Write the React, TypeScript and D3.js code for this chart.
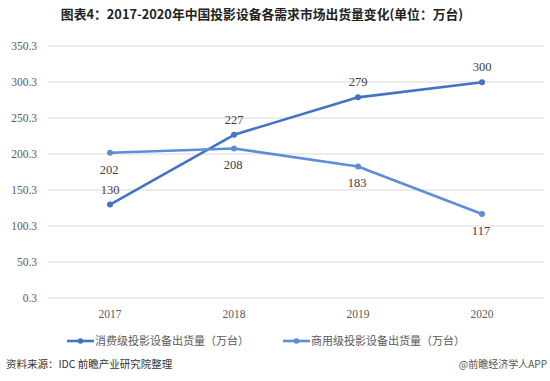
import React from "react";
import * as d3 from "d3";

const years = ["2017", "2018", "2019", "2020"];
const consumer = [130, 227, 279, 300];
const commercial = [202, 208, 183, 117];
const yTicks = [0.3, 50.3, 100.3, 150.3, 200.3, 250.3, 300.3, 350.3];
const seriesNames = ["消费级投影设备出货量（万台）", "商用级投影设备出货量（万台）"];
const colors = ["#4472C4", "#5B8ED6"];

export default function App() {
  const W = 550, H = 381;
  const x0 = 48, x1 = 544, yTop = 46, yBot = 298;
  const x = d3.scaleBand<string>().domain(years).range([x0, x1]);
  const y = d3.scaleLinear().domain([0.3, 350.3]).range([yBot, yTop]);
  const cx = (i: number) => (x(years[i]) as number) + x.bandwidth() / 2;
  const line = d3.line<number>().x((_, i) => cx(i)).y((d) => y(d));
  const serif = "'Liberation Serif', 'DejaVu Serif', serif";
  const sans = "'Noto Sans CJK SC', 'Noto Sans', sans-serif";
  const series = [consumer, commercial];
  return (
    <svg width={W} height={H} style={{ position: "absolute", left: 0, top: 0, background: "#fff" }}>
      <rect width={W} height={H} fill="#fff" />
      <text x={262} y={19} textAnchor="middle" fontFamily={sans} fontWeight="bold" fontSize={12.8} fill="#222">
        图表4：2017-2020年中国投影设备各需求市场出货量变化(单位：万台)
      </text>
      {yTicks.map((t) => (
        <g key={t}>
          <line x1={x0} x2={x1} y1={y(t)} y2={y(t)} stroke="#d9d9d9" strokeWidth={1} />
          <text x={37} y={y(t) + 4} textAnchor="end" fontFamily={serif} fontSize={11.5} fill="#595959">
            {t.toFixed(1)}
          </text>
        </g>
      ))}
      {years.map((yr, i) => (
        <text key={yr} x={cx(i)} y={318} textAnchor="middle" fontFamily={serif} fontSize={11.5} fill="#595959">
          {yr}
        </text>
      ))}
      {series.map((s, k) => (
        <g key={k}>
          <path d={line(s) || ""} fill="none" stroke={colors[k]} strokeWidth={2.6} strokeLinejoin="round" />
          {s.map((v, i) => (
            <circle key={i} cx={cx(i)} cy={y(v)} r={3} fill={colors[k]} />
          ))}
          {s.map((v, i) => (
            <text key={"l" + i} x={cx(i) + (k === 0 ? 0 : -1)} y={k === 0 ? y(v) - 11 : y(v) + 21} textAnchor="middle" fontFamily={serif} fontSize={12.5} fill="#404040">
              {v}
            </text>
          ))}
        </g>
      ))}
      {seriesNames.map((n, k) => {
        const lx = k === 0 ? 67 : 283;
        return (
          <g key={n}>
            <line x1={lx} x2={lx + 27} y1={341} y2={341} stroke={colors[k]} strokeWidth={2.6} />
            <circle cx={lx + 13.5} cy={341} r={2.8} fill={colors[k]} />
            <text x={lx + 28} y={345} fontFamily={sans} fontSize={11} fill="#595959">{n}</text>
          </g>
        );
      })}
      <text x={6} y={368} fontFamily={sans} fontSize={10.5} fill="#333">资料来源：IDC 前瞻产业研究院整理</text>
      <text x={547} y={368} textAnchor="end" fontFamily={sans} fontSize={10} fill="#555">@前瞻经济学人APP</text>
    </svg>
  );
}
